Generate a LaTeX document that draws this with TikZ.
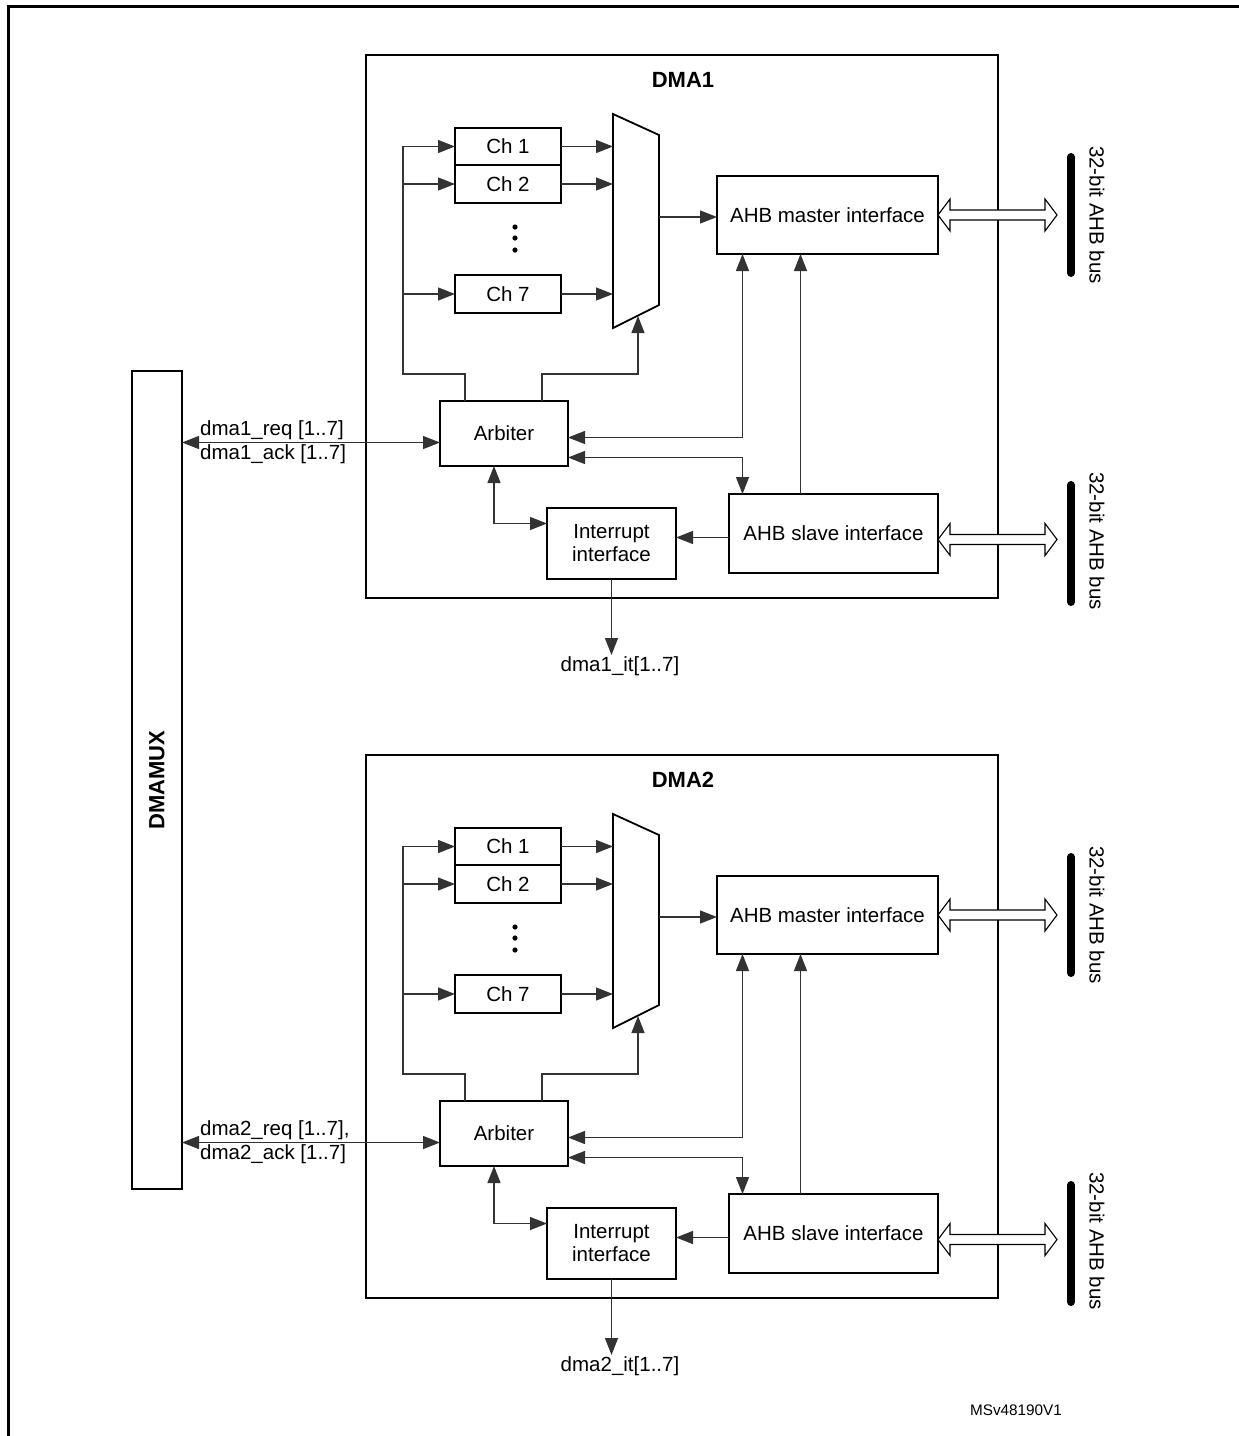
\documentclass[tikz,border=0pt]{standalone}
\usepackage{fontspec}
\setmainfont{Liberation Sans}
\usetikzlibrary{arrows.meta,calc,positioning}

\tikzset{
  box/.style={draw, line width=1.8pt, inner sep=0pt, outer sep=0pt, align=center, font=\fontsize{20.5}{23}\selectfont},
  conn/.style={line width=1.3pt, black!80, >={Triangle[length=17pt,width=13pt]}},
  dmabox/.style={line width=2.4pt},
  bar/.style={line width=8pt, line cap=round},
  hollow/.style={line width=1.1pt, fill=white},
  lbl/.style={inner sep=1pt, font=\fontsize{20.5}{23}\selectfont},
  ttl/.style={font=\bfseries\fontsize{22}{26}\selectfont},
}

\begin{document}
\begin{tikzpicture}[x=1pt, y=-1pt]
	\useasboundingbox (0,0) rectangle (1239,1436);
	\draw[line width=3pt] (8,1436) |- (1239,6);
	
	\node[box, minimum width=50pt, minimum height=818pt, label={[ttl, rotate=90]center:DMAMUX}] (dmx) at (157,780) {};
	
	\foreach \i/\dy/\rqs in {1/0/{}, 2/700/{,}} {
	\begin{scope}[shift={(0,\dy)}]
		\draw[dmabox] (366,55) rectangle (998,598);
		\node[ttl] (title-\i) at (683,80) {DMA\i};
		
		% channels and multiplexer
		\node[box, minimum width=106pt, minimum height=37pt] (ch1-\i) at (508,146.5) {Ch 1};
		\node[box, minimum width=106pt, minimum height=38pt, below=0pt of ch1-\i] (ch2-\i) {Ch 2};
		\node[box, minimum width=106pt, minimum height=38pt] (ch7-\i) at (508,294) {Ch 7};
		\foreach \yy in {227,238,250} \fill (515,\yy) circle (2.6pt);
		\draw[line width=1.8pt] (613,114) -- (659,135) -- (659,305) -- (613,328) -- cycle;
		\coordinate (muxl-\i) at (613,220);
		\coordinate (muxo-\i) at (659,217);
		\coordinate (muxb-\i) at (638,316);
		\coordinate (fb-\i) at (403,374);
		
		\node[box, minimum width=221pt, minimum height=78pt] (mst-\i) at (827.5,215) {AHB master interface};
		\node[box, minimum width=209pt, minimum height=79pt] (slv-\i) at (833.5,533.5) {AHB slave interface};
		\node[box, minimum width=128pt, minimum height=65pt] (arb-\i) at (504,433.5) {Arbiter};
		\node[box, minimum width=129pt, minimum height=71pt] (irq-\i) at (611.5,543.5) {Interrupt\\interface};
		
		\draw[conn,->] ([xshift=-39pt]arb-\i.north) |- (fb-\i) |- (ch1-\i.west);
		\draw[conn,->] (fb-\i |- ch2-\i.west) -- (ch2-\i.west);
		\draw[conn,->] (fb-\i |- ch7-\i.west) -- (ch7-\i.west);
		\draw[conn,->] ([xshift=38pt]arb-\i.north) |- (muxb-\i |- fb-\i) -- (muxb-\i);
		\draw[conn,->] (ch1-\i.east) -- (ch1-\i.east -| muxl-\i);
		\draw[conn,->] (ch2-\i.east) -- (ch2-\i.east -| muxl-\i);
		\draw[conn,->] (ch7-\i.east) -- (ch7-\i.east -| muxl-\i);
		\draw[conn,->] (muxo-\i) -- (muxo-\i -| mst-\i.west);
		
		\draw[conn,<->] ([yshift=-4pt]arb-\i.east) -| ([xshift=-85pt]mst-\i.south);
		\draw[conn,<->] ([yshift=-24pt]arb-\i.east) -| ([xshift=-91pt]slv-\i.north);
		\draw[conn,->] ([xshift=-33pt]slv-\i.north) coordinate (up-\i) -- (up-\i |- mst-\i.south);
		\draw[conn,->] ([yshift=-4pt]slv-\i.west) coordinate (dn-\i) -- (dn-\i -| irq-\i.east);
		\draw[conn,<->] ([xshift=-10pt]arb-\i.south) |- ([yshift=20pt]irq-\i.west);
		
		% requests and interrupts
		\draw[conn,<->] ([yshift=-9pt]arb-\i.west) coordinate (rq-\i) -- (rq-\i -| dmx.east);
		\node[lbl, anchor=west] (req-\i) at (199,430) {dma\i\_req [1..7]\rqs};
		\node[lbl, anchor=west] (ack-\i) at (199,454) {dma\i\_ack [1..7]};
		\node[lbl, anchor=north] (it-\i) at (620,655) {dma\i\_it[1..7]};
		\draw[conn,->] (irq-\i.south) -- (irq-\i.south |- it-\i.north);
		
		% AHB buses
		\draw[hollow] (mst-\i.east) -- ++(12,-16) -- ++(0,11) -- ++(95,0) -- ++(0,-11) -- ++(12,16) -- ++(-12,16) -- ++(0,-11) -- ++(-95,0) -- ++(0,11) -- cycle;
		\draw[hollow] ($(slv-\i.east)+(0,6)$) -- ++(12,-16) -- ++(0,11) -- ++(95,0) -- ++(0,-11) -- ++(12,16) -- ++(-12,16) -- ++(0,-11) -- ++(-95,0) -- ++(0,11) -- cycle;
		\draw[bar] (1071,157) -- (1071,273);
		\draw[bar] (1071,485) -- (1071,602);
		\node[lbl, rotate=-90] (bus1-\i) at (1097,215) {32-bit AHB bus};
		\node[lbl, rotate=-90] (bus2-\i) at (1097,541) {32-bit AHB bus};
	\end{scope}
	}
	
	\node[font=\fontsize{15.3}{18}\selectfont] (ref) at (1016,1410) {MSv48190V1};
\end{tikzpicture}
\end{document}
